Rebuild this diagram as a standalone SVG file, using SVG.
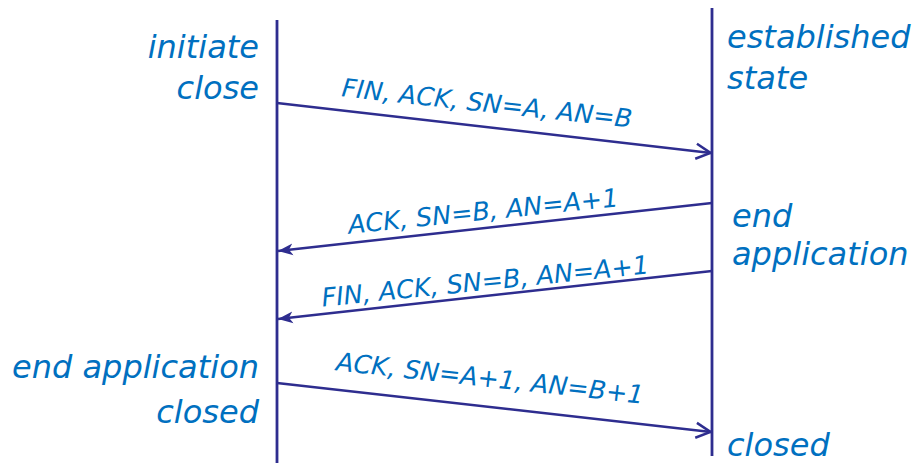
<svg xmlns="http://www.w3.org/2000/svg" width="916" height="463" viewBox="0 0 916 463">
  <style>
    .state { font-family: "DejaVu Sans", Verdana, sans-serif; font-style: italic; font-size: 32px; fill: #0070c0; }
    .msg { font-family: "DejaVu Sans", Verdana, sans-serif; font-style: italic; font-size: 25.5px; fill: #0070c0; }
    .life { stroke: #2e2d8f; stroke-width: 2.8; fill: none; }
    .arrow { stroke: #2e2d8f; stroke-width: 2.5; fill: none; }
  </style>
  <defs>
    <marker id="open" viewBox="0 0 18 18" refX="17" refY="9" markerWidth="18" markerHeight="18" markerUnits="userSpaceOnUse" orient="auto">
      <path d="M2,1.5 L16.5,9 L2,16.5" fill="none" stroke="#2e2d8f" stroke-width="2.5"/>
    </marker>
    <marker id="solid" viewBox="0 0 16 13" refX="15" refY="6.5" markerWidth="16" markerHeight="13" markerUnits="userSpaceOnUse" orient="auto">
      <path d="M0,0.5 L15,6.5 L0,12.5 L4,6.5 Z" fill="#2e2d8f"/>
    </marker>
  </defs>

  <!-- lifelines -->
  <g id="client">
    <line class="life" x1="277" y1="20" x2="277" y2="463"/>
    <text class="state" x="259" y="58" text-anchor="end">initiate</text>
    <text class="state" x="259" y="99" text-anchor="end">close</text>
    <text class="state" x="259" y="378" text-anchor="end">end application</text>
    <text class="state" x="259" y="423" text-anchor="end">closed</text>
  </g>
  <g id="server">
    <line class="life" x1="712" y1="8" x2="712" y2="456"/>
    <text class="state" x="727" y="48">established</text>
    <text class="state" x="727" y="89">state</text>
    <text class="state" x="732" y="227">end</text>
    <text class="state" x="732" y="265">application</text>
    <text class="state" x="727" y="456">closed</text>
  </g>

  <!-- messages -->
  <g id="connectors">
    <line class="arrow" x1="277" y1="103" x2="711" y2="153" marker-end="url(#open)"/>
    <line class="arrow" x1="712" y1="203" x2="278" y2="251" marker-end="url(#solid)"/>
    <line class="arrow" x1="712" y1="271" x2="278" y2="319" marker-end="url(#solid)"/>
    <line class="arrow" x1="277" y1="383" x2="711" y2="432" marker-end="url(#open)"/>
    <text class="msg" transform="translate(486,112) rotate(6.2)" text-anchor="middle">FIN, ACK, SN=A, AN=B</text>
    <text class="msg" transform="translate(484,220) rotate(-5.8)" text-anchor="middle">ACK, SN=B, AN=A+1</text>
    <text class="msg" transform="translate(486,290) rotate(-5.8)" text-anchor="middle">FIN, ACK, SN=B, AN=A+1</text>
    <text class="msg" transform="translate(489,387) rotate(6.2)" text-anchor="middle">ACK, SN=A+1, AN=B+1</text>
  </g>
</svg>
